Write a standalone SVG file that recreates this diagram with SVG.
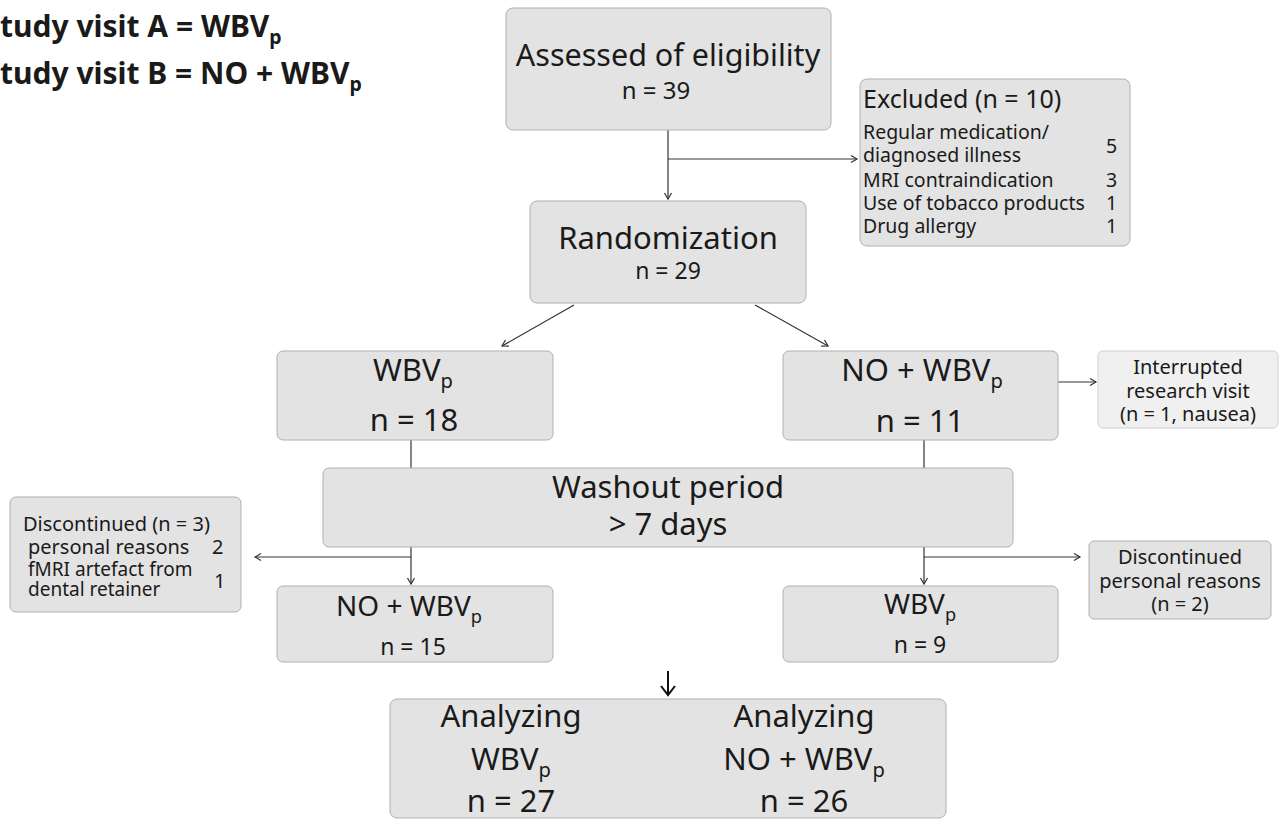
<svg xmlns="http://www.w3.org/2000/svg" width="1284" height="819" viewBox="0 0 1284 819">
<style>
text{font-family:"Noto Sans","Open Sans","DejaVu Sans",sans-serif;fill:#1a1a1a}
.box{fill:#e3e3e3;stroke:#b0b0b0;stroke-width:1}
.lbox{fill:#f0f0f0;stroke:#cfcfcf;stroke-width:1}
.ln{stroke:#333;stroke-width:1.2;fill:none}
.c{text-anchor:middle}
.big{font-size:31px}
.mid{font-size:24px}
.sm{font-size:20px}
.it{font-size:19.5px}
.hd{font-size:30px;font-weight:bold}
.sub{font-size:65%}
</style>
<defs>
<marker id="ah" markerWidth="10" markerHeight="10" refX="7" refY="4" orient="auto" markerUnits="userSpaceOnUse">
<path d="M1,0.5 L7,4 L1,7.5" fill="none" stroke="#333" stroke-width="1.2"/>
</marker>
<marker id="ahb" markerWidth="20" markerHeight="20" refX="10" refY="8" orient="auto" markerUnits="userSpaceOnUse">
<path d="M1,1 L10,8 L1,15" fill="none" stroke="#111" stroke-width="2"/>
</marker>
</defs>

<g id="legend">
<text class="hd" x="0" y="37">tudy visit A = WBV<tspan class="sub" dy="7">p</tspan></text>
<text class="hd" x="0" y="84">tudy visit B = NO + WBV<tspan class="sub" dy="7">p</tspan></text>
</g>

<g id="connectors">
<line class="ln" x1="668" y1="130" x2="668" y2="199" marker-end="url(#ah)"/>
<line class="ln" x1="668" y1="159" x2="857" y2="159" marker-end="url(#ah)"/>
<line class="ln" x1="574" y1="305" x2="502" y2="346" marker-end="url(#ah)"/>
<line class="ln" x1="755" y1="305" x2="828" y2="346" marker-end="url(#ah)"/>
<line class="ln" x1="1058" y1="382" x2="1096" y2="382" marker-end="url(#ah)"/>
<line class="ln" x1="411" y1="440" x2="411" y2="468"/>
<line class="ln" x1="924" y1="440" x2="924" y2="468"/>
<line class="ln" x1="411" y1="547" x2="411" y2="584" marker-end="url(#ah)"/>
<line class="ln" x1="411" y1="557" x2="255" y2="557" marker-end="url(#ah)"/>
<line class="ln" x1="924" y1="547" x2="924" y2="584" marker-end="url(#ah)"/>
<line class="ln" x1="924" y1="557" x2="1080" y2="557" marker-end="url(#ah)"/>
<line x1="668" y1="671" x2="668" y2="695" stroke="#111" stroke-width="2" marker-end="url(#ahb)"/>
</g>

<g id="assessed">
<rect class="box" x="506" y="8" width="325" height="122" rx="7"/>
<text class="c" x="668" y="66" style="font-size:30.5px">Assessed of eligibility</text>
<text class="c mid" x="656" y="99">n = 39</text>
</g>

<g id="excluded">
<rect class="box" x="860" y="79" width="270" height="167" rx="7"/>
<text x="863" y="108" style="font-size:25px">Excluded (n = 10)</text>
<text class="it" x="863" y="139">Regular medication/</text>
<text class="it" x="863" y="162">diagnosed illness</text>
<text class="it" x="863" y="187">MRI contraindication</text>
<text class="it" x="863" y="210">Use of tobacco products</text>
<text class="it" x="863" y="233">Drug allergy</text>
<text class="it" x="1106" y="153">5</text>
<text class="it" x="1106" y="187">3</text>
<text class="it" x="1106" y="210">1</text>
<text class="it" x="1106" y="233">1</text>
</g>

<g id="randomization">
<rect class="box" x="530" y="201" width="276" height="102" rx="7"/>
<text class="c big" x="668" y="249">Randomization</text>
<text class="c" style="font-size:23px" x="668" y="279">n = 29</text>
</g>

<g id="wbv1">
<rect class="box" x="277" y="351" width="276" height="89" rx="6"/>
<text class="c big" x="413" y="381">WBV<tspan class="sub" dy="7">p</tspan></text>
<text class="c big" x="414" y="431">n = 18</text>
</g>

<g id="nowbv1">
<rect class="box" x="783" y="351" width="275" height="89" rx="6"/>
<text class="c big" x="922" y="381">NO + WBV<tspan class="sub" dy="7">p</tspan></text>
<text class="c big" x="920" y="432">n = 11</text>
</g>

<g id="interrupted">
<rect class="lbox" x="1098" y="351" width="180" height="77" rx="5"/>
<text class="c sm" x="1188" y="374">Interrupted</text>
<text class="c sm" x="1188" y="398">research visit</text>
<text class="c sm" x="1188" y="421">(n = 1, nausea)</text>
</g>

<g id="washout">
<rect class="box" x="323" y="468" width="690" height="79" rx="6"/>
<text class="c big" x="668" y="498">Washout period</text>
<text class="c big" x="668" y="535">&gt; 7 days</text>
</g>

<g id="disc3">
<rect class="box" x="10" y="497" width="231" height="115" rx="6"/>
<text class="sm" x="23" y="531">Discontinued (n = 3)</text>
<text class="sm" x="28" y="554">personal reasons</text>
<text class="sm" x="212" y="554">2</text>
<text x="28" y="576" style="font-size:19px">fMRI artefact from</text>
<text x="28" y="596" style="font-size:19px">dental retainer</text>
<text class="sm" x="214" y="588">1</text>
</g>

<g id="disc2">
<rect class="box" x="1089" y="541" width="182" height="78" rx="5"/>
<text class="c sm" x="1180" y="564">Discontinued</text>
<text class="c sm" x="1180" y="588">personal reasons</text>
<text class="c sm" x="1180" y="611">(n = 2)</text>
</g>

<g id="nowbv2">
<rect class="box" x="277" y="586" width="276" height="76" rx="6"/>
<text class="c" style="font-size:28px" x="409" y="616">NO + WBV<tspan class="sub" dy="7">p</tspan></text>
<text class="c" style="font-size:23px" x="413" y="655">n = 15</text>
</g>

<g id="wbv2">
<rect class="box" x="783" y="586" width="275" height="76" rx="6"/>
<text class="c" style="font-size:28px" x="920" y="614">WBV<tspan class="sub" dy="7">p</tspan></text>
<text class="c" style="font-size:23px" x="920" y="653">n = 9</text>
</g>

<g id="analyzing">
<rect class="box" x="390" y="699" width="556" height="119" rx="7"/>
<text class="c big" x="511" y="727">Analyzing</text>
<text class="c big" x="511" y="770">WBV<tspan class="sub" dy="7">p</tspan></text>
<text class="c big" x="511" y="812">n = 27</text>
<text class="c big" x="804" y="727">Analyzing</text>
<text class="c big" x="804" y="770">NO + WBV<tspan class="sub" dy="7">p</tspan></text>
<text class="c big" x="804" y="812">n = 26</text>
</g>
</svg>
